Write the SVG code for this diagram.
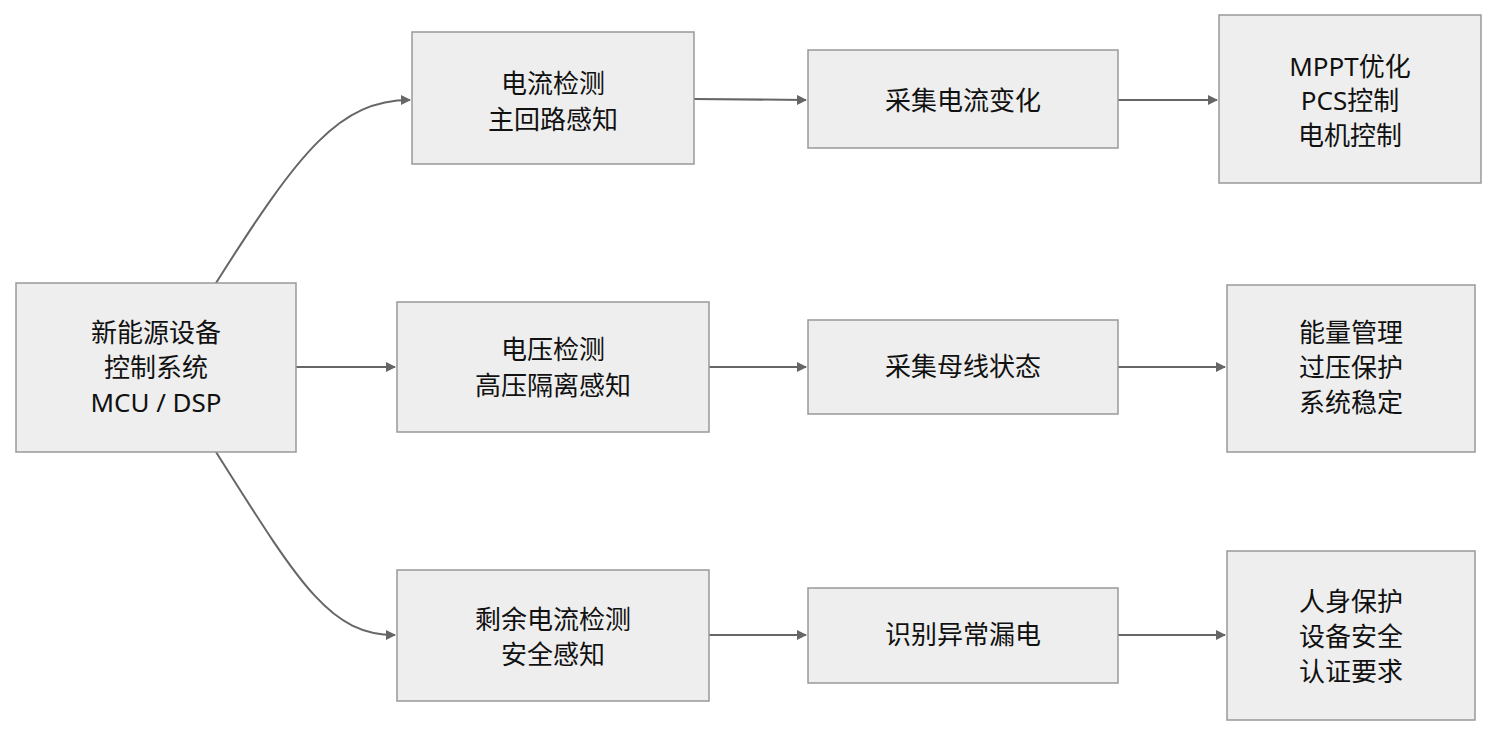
<svg xmlns="http://www.w3.org/2000/svg" width="1499" height="738" viewBox="0 0 1499 738">
<style>
.n rect{fill:#eeeeee;stroke:#999999;stroke-width:1.5}
.n text{font-family:"Noto Sans","Noto Sans CJK SC",sans-serif;font-size:26px;fill:#111;text-anchor:middle}
.c path{fill:none;stroke:#666666;stroke-width:2}
</style>
<defs><marker id="a" markerWidth="10" markerHeight="10" refX="9" refY="5" orient="auto" markerUnits="userSpaceOnUse" viewBox="0 0 10 10"><path d="M0,0L10,5L0,10z" fill="#666"/></marker></defs>
<rect width="1499" height="738" fill="#fff"/>
<g class="c">
<path d="M216,283 C300,150 340,100 410,100" marker-end="url(#a)"/>
<path d="M296,367 L395,367" marker-end="url(#a)"/>
<path d="M216,452 C300,585 330,635 395,635" marker-end="url(#a)"/>
<path d="M694,99 L806,100" marker-end="url(#a)"/>
<path d="M709,367 L806,367" marker-end="url(#a)"/>
<path d="M709,635 L806,635" marker-end="url(#a)"/>
<path d="M1118,100 L1217,100" marker-end="url(#a)"/>
<path d="M1118,367 L1225,367" marker-end="url(#a)"/>
<path d="M1118,635 L1225,635" marker-end="url(#a)"/>
</g>
<g class="n" id="main"><rect x="16" y="283" width="280" height="169"/><text x="156" y="342">新能源设备</text><text x="156" y="377">控制系统</text><text x="156" y="412">MCU / DSP</text></g>
<g class="n" id="i1"><rect x="412" y="32" width="282" height="132"/><text x="553" y="93">电流检测</text><text x="553" y="129">主回路感知</text></g>
<g class="n" id="c1"><rect x="808" y="50" width="310" height="98"/><text x="963" y="110">采集电流变化</text></g>
<g class="n" id="o1"><rect x="1219" y="15" width="262" height="168"/><text x="1350" y="76">MPPT优化</text><text x="1350" y="110">PCS控制</text><text x="1350" y="145">电机控制</text></g>
<g class="n" id="i2"><rect x="397" y="302" width="312" height="130"/><text x="553" y="359">电压检测</text><text x="553" y="395">高压隔离感知</text></g>
<g class="n" id="c2"><rect x="808" y="320" width="310" height="94"/><text x="963" y="376">采集母线状态</text></g>
<g class="n" id="o2"><rect x="1227" y="285" width="248" height="167"/><text x="1351" y="342">能量管理</text><text x="1351" y="377">过压保护</text><text x="1351" y="412">系统稳定</text></g>
<g class="n" id="i3"><rect x="397" y="570" width="312" height="131"/><text x="553" y="629">剩余电流检测</text><text x="553" y="664">安全感知</text></g>
<g class="n" id="c3"><rect x="808" y="588" width="310" height="95"/><text x="963" y="644">识别异常漏电</text></g>
<g class="n" id="o3"><rect x="1227" y="551" width="248" height="169"/><text x="1351" y="611">人身保护</text><text x="1351" y="646">设备安全</text><text x="1351" y="681">认证要求</text></g>
</svg>
